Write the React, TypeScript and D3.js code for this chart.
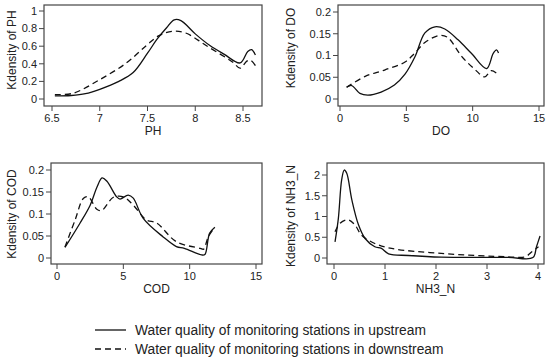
import React from 'react';
import * as d3 from 'd3';

// kdensity curves: [x, density]
const phUp = [[6.53,0.035],[6.7,0.04],[6.85,0.06],[7.0,0.11],[7.2,0.2],[7.35,0.3],[7.5,0.52],[7.6,0.68],[7.7,0.81],[7.78,0.9],[7.85,0.89],[8.0,0.74],[8.15,0.61],[8.3,0.51],[8.47,0.41],[8.55,0.54],[8.59,0.56],[8.63,0.5]];
const phDown = [[6.53,0.05],[6.72,0.065],[7.0,0.22],[7.28,0.41],[7.49,0.61],[7.62,0.72],[7.76,0.77],[7.9,0.75],[8.11,0.61],[8.39,0.42],[8.47,0.35],[8.54,0.43],[8.58,0.44],[8.63,0.38]];
const doUp = [[0.5,0.027],[0.88,0.031],[1.5,0.013],[2.1,0.009],[3.1,0.016],[4.1,0.032],[4.9,0.057],[5.65,0.097],[6.4,0.152],[7.16,0.166],[7.9,0.161],[8.9,0.136],[9.9,0.105],[11.05,0.07],[11.55,0.105],[11.8,0.113],[11.95,0.106]];
const doDown = [[0.5,0.027],[1.9,0.052],[3.4,0.067],[4.9,0.085],[5.65,0.106],[6.4,0.13],[7.5,0.146],[8.1,0.142],[9.2,0.097],[10.2,0.067],[10.9,0.051],[11.4,0.065],[11.9,0.057]];
const codUp = [[0.6,0.024],[1.73,0.079],[2.5,0.12],[3.0,0.16],[3.4,0.182],[3.75,0.175],[4.5,0.139],[4.75,0.134],[5.37,0.143],[5.75,0.136],[6.5,0.09],[8.0,0.048],[9.0,0.026],[9.6,0.022],[10.9,0.007],[11.15,0.008],[11.5,0.056],[11.9,0.07]];
const codDown = [[0.6,0.025],[1.36,0.086],[2.0,0.136],[2.36,0.139],[3.0,0.111],[3.37,0.108],[4.25,0.138],[5.0,0.139],[5.75,0.12],[6.76,0.086],[7.5,0.08],[9.0,0.037],[10.8,0.022],[11.05,0.02],[11.4,0.048],[11.9,0.07]];
const nhUp = [[0.02,0.39],[0.085,0.95],[0.15,1.88],[0.2,2.12],[0.25,2.04],[0.35,1.4],[0.48,0.8],[0.61,0.47],[0.8,0.27],[0.93,0.23],[1.07,0.1],[1.46,0.06],[2.1,0.02],[3.4,0.015],[3.9,0.01],[3.97,0.27],[4.04,0.53]];
const nhDown = [[0.02,0.63],[0.12,0.84],[0.28,0.92],[0.41,0.8],[0.54,0.55],[0.8,0.35],[1.13,0.23],[2.1,0.11],[3.4,0.03],[3.75,0.03],[3.88,0.15],[4.01,0.27]];

const phXTicks = [6.5, 7, 7.5, 8, 8.5];
const phYTicks = [0, 0.2, 0.4, 0.6, 0.8, 1];
const doXTicks = [0, 5, 10, 15];
const doYTicks = [0, 0.05, 0.1, 0.15, 0.2];
const codXTicks = [0, 5, 10, 15];
const codYTicks = [0, 0.05, 0.1, 0.15, 0.2];
const nhXTicks = [0, 1, 2, 3, 4];
const nhYTicks = [0, 0.5, 1, 1.5, 2];

const legendLabels = [
  'Water quality of monitoring stations in upstream',
  'Water quality of monitoring stations in downstream',
];

const FONT = 'Liberation Sans, Arial, sans-serif';
const INK = '#222';

type Panel = {
  name: string; up: number[][]; down: number[][];
  xd: [number, number]; yd: [number, number];
  xr: [number, number]; yr: [number, number];
  frame: [number, number, number, number];
  xt: number[]; yt: number[]; labX: number; labY: number;
};

const panels: Panel[] = [
  { name: 'PH', up: phUp, down: phDown, xd: [6.5, 8.5], yd: [0, 1], xr: [52, 243], yr: [99, 11], frame: [44, 5, 262, 106], xt: phXTicks, yt: phYTicks, labX: 12, labY: 50 },
  { name: 'DO', up: doUp, down: doDown, xd: [0, 15], yd: [0, 0.2], xr: [340, 539], yr: [99, 12], frame: [338, 5, 544, 106], xt: doXTicks, yt: doYTicks, labX: 291, labY: 48 },
  { name: 'COD', up: codUp, down: codDown, xd: [0, 15], yd: [0, 0.2], xr: [57, 256], yr: [258, 170], frame: [51, 163, 262, 264], xt: codXTicks, yt: codYTicks, labX: 12, labY: 214 },
  { name: 'NH3_N', up: nhUp, down: nhDown, xd: [0, 4], yd: [0, 2], xr: [334, 538], yr: [258, 175], frame: [327, 163, 544, 264], xt: nhXTicks, yt: nhYTicks, labX: 291, labY: 216 },
];

function PanelView({ p }: { p: Panel }) {
  const x = d3.scaleLinear().domain(p.xd).range(p.xr);
  const y = d3.scaleLinear().domain(p.yd).range(p.yr);
  const line = d3.line<number[]>().x(d => x(d[0])).y(d => y(d[1])).curve(d3.curveCatmullRom.alpha(0.5));
  const [l, t, r, b] = p.frame;
  return (
    <g>
      <rect x={l} y={t} width={r - l} height={b - t} fill="none" stroke="#444" strokeWidth={1.2} />
      {p.yt.map(v => (
        <g key={'y' + v}>
          <line x1={l - 5} x2={l} y1={y(v)} y2={y(v)} stroke="#444" />
          <text x={l - 7} y={y(v)} dy="0.35em" textAnchor="end" fontSize={11} fill={INK}>{v}</text>
        </g>
      ))}
      {p.xt.map(v => (
        <g key={'x' + v}>
          <line x1={x(v)} x2={x(v)} y1={b} y2={b + 5} stroke="#444" />
          <text x={x(v)} y={b + 16} textAnchor="middle" fontSize={11} fill={INK}>{v}</text>
        </g>
      ))}
      <text x={(l + r) / 2} y={b + 29} textAnchor="middle" fontSize={12} fill={INK}>{p.name}</text>
      <text transform={`translate(${p.labX},${p.labY}) rotate(-90)`} textAnchor="middle" dy="0.35em" fontSize={12} fill={INK}>{'Kdensity of ' + p.name}</text>
      <path d={line(p.up) || ''} fill="none" stroke="#111" strokeWidth={1.3} />
      <path d={line(p.down) || ''} fill="none" stroke="#111" strokeWidth={1.3} strokeDasharray="6,4" />
    </g>
  );
}

export default function App() {
  return (
    <svg width={550} height={361} style={{ position: 'absolute', left: 0, top: 0, background: '#fff' }} fontFamily={FONT}>
      {panels.map(p => <PanelView key={p.name} p={p} />)}
      {legendLabels.map((lab, i) => (
        <g key={lab} transform={`translate(0,${330 + i * 19})`}>
          <line x1={95} x2={126} y1={0} y2={0} stroke="#111" strokeWidth={1.3} strokeDasharray={i ? '6,4' : undefined} />
          <text x={135} y={0} dy="0.35em" fontSize={13.8} fill={INK}>{lab}</text>
        </g>
      ))}
    </svg>
  );
}
